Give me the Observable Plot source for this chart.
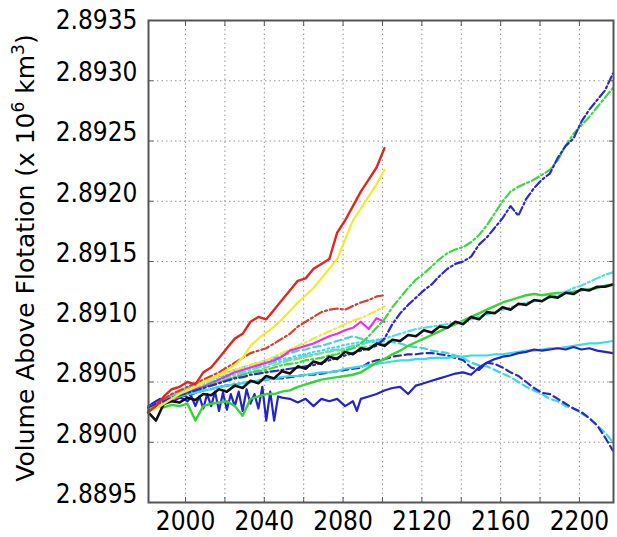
<!DOCTYPE html>
<html><head><meta charset="utf-8">
<script src="https://cdn.jsdelivr.net/npm/d3@7"></script>
<script src="https://cdn.jsdelivr.net/npm/@observablehq/plot@0.6"></script>
<style>
html,body{margin:0;padding:0;background:#fff;}
#chart{width:617px;height:537px;}
</style></head><body><div id="chart"></div>
<script>
// ---- tick values ----
const xGrid = [2000,2020,2040,2060,2080,2100,2120,2140,2160,2180,2200];
const xLabels = [2000,2040,2080,2120,2160,2200];
const yTicks = [2.8895,2.8900,2.8905,2.8910,2.8915,2.8920,2.8925,2.8930,2.8935];
const yTopLabel = [2.8935];
const yLowerLabels = [2.8895,2.8900,2.8905,2.8910,2.8915,2.8920,2.8925,2.8930];

// ---- years ----
const yrs4 = [1981,1985,1989,1993,1997,2001,2005,2009,2013,2017,
  2021,2025,2029,2033,2037,2041,2045,2049,2053,2057,
  2061,2065,2069,2073,2077,2081,2085,2089,2093,2097,
  2101,2105,2109,2113,2117,2121,2125,2129,2133,2137,
  2141,2145,2149,2153,2157,2161,2165,2169,2173,2177,
  2181,2185,2189,2193,2197,2201,2205,2209,2213,2217];
const yrsShort = [1981,1985,1989,1993,1997,2001,2005,2009,2013,2017,
  2021,2025,2029,2033,2037,2041,2045,2049,2053,2057,
  2061,2065,2069,2073,2077,2081,2085,2089,2093,2097,2101];
const blueYears = [1981,1983,1985,1987,1989,1991,1993,1995,1997,1999,2001,2003,2005,2007,2009,2011,2013,2015,2017,2019,
  2021,2023,2025,2027,2029,2031,2033,2035,2037,2039,2041,2043,2045,2047,2049,
  2053,2057,2061,2065,2069,2073,2077,2081,2085,2087,2089,
  2093,2097,2101,2105,2109,2113,2117,2121,2125,2129,2133,2137,2141,2145,2149,2153,2157,2161,
  2165,2169,2173,2177,2181,2185,2189,2193,2197,2201,2205,2209,2213,2217];

// ---- short runs (to 2100) ----
const redSolid = [2.89025,2.89030,2.89038,2.89044,2.89046,2.89050,2.89048,2.89058,2.89062,2.89070,
  2.89078,2.89086,2.89090,2.89100,2.89104,2.89102,2.89110,2.89118,2.89126,2.89134,
  2.89136,2.89144,2.89148,2.89152,2.89174,2.89184,2.89196,2.89208,2.89218,2.89228,2.89244];
const yellowSolid = [2.89025,2.89028,2.89032,2.89036,2.89040,2.89043,2.89046,2.89050,2.89053,2.89056,
  2.89060,2.89064,2.89070,2.89080,2.89086,2.89091,2.89096,2.89102,2.89109,2.89116,
  2.89122,2.89128,2.89136,2.89144,2.89152,2.89168,2.89184,2.89194,2.89204,2.89214,2.89226];
const redDashDot = [2.89028,2.89032,2.89036,2.89040,2.89043,2.89046,2.89049,2.89052,2.89055,2.89058,
  2.89062,2.89066,2.89070,2.89074,2.89076,2.89078,2.89082,2.89086,2.89090,2.89096,
  2.89100,2.89104,2.89108,2.89110,2.89111,2.89110,2.89113,2.89116,2.89118,2.89121,2.89122];
const yellowDashDot = [2.89027,2.89030,2.89034,2.89037,2.89040,2.89043,2.89046,2.89049,2.89052,2.89055,
  2.89058,2.89060,2.89062,2.89064,2.89066,2.89068,2.89071,2.89074,2.89077,2.89080,
  2.89083,2.89086,2.89089,2.89092,2.89095,2.89098,2.89101,2.89103,2.89106,2.89109,2.89113];
const magentaSolid = [2.89026,2.89029,2.89032,2.89035,2.89038,2.89041,2.89044,2.89046,2.89049,2.89052,
  2.89055,2.89058,2.89060,2.89062,2.89064,2.89066,2.89068,2.89071,2.89076,2.89078,
  2.89080,2.89082,2.89085,2.89088,2.89090,2.89093,2.89095,2.89100,2.89094,2.89103,2.89100];
const cyanShort = [2.89028,2.89031,2.89035,2.89038,2.89041,2.89044,2.89047,2.89050,2.89052,2.89054,
  2.89056,2.89058,2.89060,2.89062,2.89064,2.89066,2.89067,2.89069,2.89070,2.89072,
  2.89073,2.89075,2.89076,2.89078,2.89079,2.89081,2.89082,2.89083,2.89084,2.89085,2.89086];
const greenShort = [2.89029,2.89032,2.89035,2.89038,2.89040,2.89042,2.89044,2.89046,2.89048,2.89050,
  2.89052,2.89054,2.89056,2.89058,2.89060,2.89062,2.89064,2.89066,2.89068,2.89069,
  2.89071,2.89072,2.89074,2.89075,2.89076,2.89077,2.89078,2.89079,2.89080,2.89081,2.89082];

// ---- long runs (to 2217) ----
const greenDashDot = [2.89028,2.89030,2.89033,2.89036,2.89038,2.89040,2.89043,2.89045,2.89048,2.89050,
  2.89052,2.89054,2.89056,2.89058,2.89059,2.89060,2.89062,2.89064,2.89065,2.89066,
  2.89068,2.89069,2.89070,2.89072,2.89073,2.89076,2.89078,2.89082,2.89088,2.89095,
  2.89102,2.89112,2.89120,2.89128,2.89135,2.89140,2.89146,2.89152,2.89157,2.89160,
  2.89162,2.89166,2.89172,2.89180,2.89190,2.89200,2.89208,2.89212,2.89215,2.89218,
  2.89222,2.89226,2.89234,2.89246,2.89256,2.89263,2.89270,2.89278,2.89286,2.89294];
const blueDashDot = [2.89029,2.89032,2.89034,2.89037,2.89039,2.89041,2.89043,2.89045,2.89047,2.89049,
  2.89051,2.89053,2.89054,2.89056,2.89057,2.89058,2.89059,2.89060,2.89061,2.89062,
  2.89063,2.89064,2.89066,2.89068,2.89070,2.89072,2.89074,2.89076,2.89078,2.89080,
  2.89086,2.89098,2.89107,2.89114,2.89120,2.89126,2.89131,2.89138,2.89144,2.89148,
  2.89150,2.89154,2.89164,2.89170,2.89178,2.89186,2.89196,2.89188,2.89202,2.89211,
  2.89218,2.89223,2.89236,2.89246,2.89252,2.89266,2.89276,2.89284,2.89292,2.89306];
const blackMean = [2.89025,2.89018,2.89032,2.89034,2.89033,2.89037,2.89035,2.89040,2.89039,2.89044,
  2.89042,2.89047,2.89045,2.89051,2.89049,2.89055,2.89053,2.89059,2.89057,2.89063,
  2.89061,2.89067,2.89065,2.89071,2.89069,2.89075,2.89073,2.89078,2.89077,2.89082,
  2.89080,2.89085,2.89084,2.89089,2.89088,2.89093,2.89091,2.89096,2.89095,2.89100,
  2.89098,2.89104,2.89102,2.89108,2.89107,2.89112,2.89110,2.89115,2.89114,2.89118,
  2.89117,2.89121,2.89120,2.89124,2.89123,2.89127,2.89126,2.89129,2.89129,2.89131];
const greenSolid = [2.89028,2.89030,2.89029,2.89031,2.89030,2.89032,2.89018,2.89030,2.89032,2.89033,
  2.89034,2.89030,2.89022,2.89036,2.89038,2.89040,2.89040,2.89042,2.89043,2.89046,
  2.89048,2.89050,2.89052,2.89053,2.89054,2.89055,2.89056,2.89058,2.89062,2.89066,
  2.89069,2.89073,2.89076,2.89080,2.89083,2.89086,2.89089,2.89092,2.89095,2.89098,
  2.89101,2.89104,2.89107,2.89110,2.89113,2.89116,2.89118,2.89120,2.89122,2.89123,
  2.89122,2.89123,2.89124,2.89124,2.89125,2.89126,2.89127,2.89128,2.89130,2.89131];
const cyanSolid = [2.89030,2.89032,2.89034,2.89036,2.89038,2.89040,2.89041,2.89043,2.89044,2.89046,
  2.89047,2.89048,2.89049,2.89050,2.89051,2.89052,2.89053,2.89054,2.89055,2.89055,
  2.89056,2.89057,2.89058,2.89058,2.89059,2.89061,2.89062,2.89063,2.89064,2.89065,
  2.89066,2.89067,2.89068,2.89068,2.89069,2.89069,2.89070,2.89070,2.89070,2.89071,
  2.89071,2.89072,2.89072,2.89072,2.89073,2.89073,2.89074,2.89075,2.89076,2.89076,
  2.89077,2.89078,2.89078,2.89079,2.89080,2.89081,2.89082,2.89082,2.89083,2.89084];
const blueDashed = [2.89030,2.89033,2.89035,2.89037,2.89039,2.89038,2.89041,2.89043,2.89044,2.89046,
  2.89047,2.89048,2.89049,2.89050,2.89051,2.89052,2.89053,2.89053,2.89054,2.89055,
  2.89056,2.89056,2.89057,2.89058,2.89059,2.89060,2.89061,2.89062,2.89066,2.89068,
  2.89069,2.89071,2.89072,2.89073,2.89073,2.89074,2.89074,2.89073,2.89072,2.89070,
  2.89068,2.89062,2.89060,2.89066,2.89065,2.89062,2.89058,2.89055,2.89050,2.89045,
  2.89041,2.89040,2.89036,2.89032,2.89028,2.89025,2.89020,2.89014,2.89004,2.88993];
const cyanDashed = [2.89030,2.89033,2.89036,2.89039,2.89042,2.89045,2.89048,2.89050,2.89053,2.89055,
  2.89058,2.89060,2.89062,2.89064,2.89066,2.89068,2.89070,2.89072,2.89074,2.89076,
  2.89077,2.89079,2.89080,2.89082,2.89084,2.89086,2.89088,2.89086,2.89084,2.89083,
  2.89084,2.89083,2.89082,2.89080,2.89079,2.89078,2.89076,2.89075,2.89074,2.89072,
  2.89070,2.89066,2.89064,2.89063,2.89060,2.89057,2.89054,2.89050,2.89046,2.89043,
  2.89040,2.89036,2.89034,2.89030,2.89028,2.89024,2.89020,2.89014,2.89008,2.89000];
const cyanDashDot = [2.89029,2.89032,2.89035,2.89038,2.89040,2.89043,2.89045,2.89048,2.89050,2.89052,
  2.89054,2.89056,2.89058,2.89060,2.89062,2.89064,2.89066,2.89067,2.89069,2.89070,
  2.89072,2.89073,2.89074,2.89076,2.89077,2.89078,2.89080,2.89081,2.89083,2.89084,
  2.89086,2.89088,2.89090,2.89092,2.89094,2.89095,2.89096,2.89097,2.89098,2.89099,
  2.89100,2.89102,2.89104,2.89106,2.89108,2.89110,2.89112,2.89114,2.89116,2.89117,
  2.89118,2.89120,2.89122,2.89125,2.89128,2.89130,2.89133,2.89136,2.89139,2.89141];
const blueSolid = [2.89028,2.89032,2.89034,2.89036,2.89035,2.89034,2.89036,2.89035,2.89037,2.89036,
  2.89034,2.89038,2.89030,2.89038,2.89028,2.89040,2.89030,2.89042,2.89026,2.89041,
  2.89027,2.89040,2.89030,2.89042,2.89026,2.89044,2.89032,2.89040,2.89028,2.89046,
  2.89018,2.89042,2.89018,2.89038,2.89037,
  2.89036,2.89033,2.89036,2.89030,2.89036,2.89034,2.89036,2.89030,2.89034,
  2.89026,2.89036,
  2.89038,2.89040,2.89043,2.89045,2.89046,2.89040,2.89047,2.89049,2.89051,2.89053,
  2.89055,2.89057,2.89058,2.89056,2.89062,2.89066,2.89069,2.89071,2.89072,2.89074,
  2.89075,2.89077,2.89076,2.89077,2.89078,2.89077,2.89079,2.89077,2.89078,2.89076,
  2.89075,2.89074];

// ---- styles (draw order) ----
const DASH = "7,4", DASHDOT = "8,3,2,3", DOT = "2,3";
const series = [
  {years: yrs4, values: cyanDashed, color: "#3ad6e6", dash: DASH, w: 2.2},
  {years: yrs4, values: blueDashed, color: "#2a2ac4", dash: DASH, w: 2.2},
  {years: yrs4, values: cyanSolid, color: "#36dcea", dash: null, w: 2.2},
  {years: blueYears, values: blueSolid, color: "#2424c8", dash: null, w: 2.2},
  {years: yrs4, values: greenSolid, color: "#36d436", dash: null, w: 2.4},
  {years: yrs4, values: cyanDashDot, color: "#4ae0ee", dash: DASHDOT, w: 2.2},
  {years: yrsShort, values: greenShort, color: "#7ee27e", dash: DASH, w: 2},
  {years: yrsShort, values: cyanShort, color: "#40d8e8", dash: DOT, w: 2},
  {years: yrsShort, values: yellowDashDot, color: "#f2e83a", dash: DASHDOT, w: 2.2},
  {years: yrsShort, values: magentaSolid, color: "#ee2cee", dash: null, w: 2.2},
  {years: yrsShort, values: redDashDot, color: "#e03a2a", dash: DASHDOT, w: 2.2},
  {years: yrs4, values: greenDashDot, color: "#3ed83e", dash: DASHDOT, w: 2.2},
  {years: yrs4, values: blueDashDot, color: "#2a2ad0", dash: DASHDOT, w: 2.2},
  {years: yrs4, values: blackMean, color: "#111111", dash: null, w: 2.6},
  {years: yrsShort, values: yellowSolid, color: "#f4ea2c", dash: null, w: 2.2},
  {years: yrsShort, values: redSolid, color: "#e4261e", dash: null, w: 2.4}
];

const lineMarks = series.map(s => {
  const rows = s.values.map((v, i) => ({year: s.years[i], value: v}));
  return Plot.line(rows, {x: "year", y: "value", stroke: s.color, strokeWidth: s.w,
    strokeDasharray: s.dash, strokeLinejoin: "round", strokeLinecap: "round"});
});

const gridStyle = {stroke: "#8a8a8a", strokeOpacity: 0.9, strokeWidth: 1, strokeDasharray: "1.5,3"};

const chart = Plot.plot({
  width: 617, height: 537,
  marginLeft: 148, marginRight: 4, marginTop: 20, marginBottom: 35,
  x: {domain: [1981.2, 2217.3]},
  y: {domain: [2.8895, 2.8935]},
  style: {fontFamily: '"DejaVu Sans Condensed","DejaVu Sans",sans-serif', fontStretch: "condensed",
          fontSize: "26px", background: "#fff", color: "#000", overflow: "visible"},
  marks: [
    Plot.gridX(xGrid, gridStyle),
    Plot.gridY(yTicks, gridStyle),
    ...lineMarks,
    Plot.axisX(xGrid, {anchor: "top", tickSize: -5, tickFormat: () => "", label: null, stroke: "#555"}),
    Plot.axisX(xGrid, {anchor: "bottom", tickSize: -5, tickFormat: () => "", label: null, stroke: "#555"}),
    Plot.axisX(xLabels, {anchor: "bottom", tickSize: 0, tickPadding: 9, label: null, tickFormat: d => String(d)}),
    Plot.axisY(yTicks, {anchor: "left", tickSize: -5, tickFormat: () => "", label: null, stroke: "#555"}),
    Plot.axisY(yTicks, {anchor: "right", tickSize: -5, tickFormat: () => "", label: null, stroke: "#555"}),
    Plot.axisY(yLowerLabels, {anchor: "left", tickSize: 0, tickPadding: 11, dy: -8, label: null, tickFormat: d => d.toFixed(4)}),
    Plot.axisY(yTopLabel, {anchor: "left", tickSize: 0, tickPadding: 11, dy: 0, label: null, tickFormat: d => d.toFixed(4)}),
    Plot.frame({stroke: "#555", strokeWidth: 2})
  ]
});

const svg = d3.select(chart);
const t = svg.append("text")
  .attr("transform", "translate(34,258) rotate(-90)")
  .attr("text-anchor", "middle")
  .attr("fill", "#000")
  .style("font-family", '"DejaVu Sans",sans-serif')
  .style("font-stretch", "normal")
  .style("font-size", "25px");
t.append("tspan").text("Volume Above Flotation (x 10");
t.append("tspan").attr("dy", -10).style("font-size", "17px").text("6");
t.append("tspan").attr("dy", 10).text(" km");
t.append("tspan").attr("dy", -10).style("font-size", "17px").text("3");
t.append("tspan").attr("dy", 10).text(")");

document.getElementById("chart").appendChild(chart);
</script>
</body></html>
